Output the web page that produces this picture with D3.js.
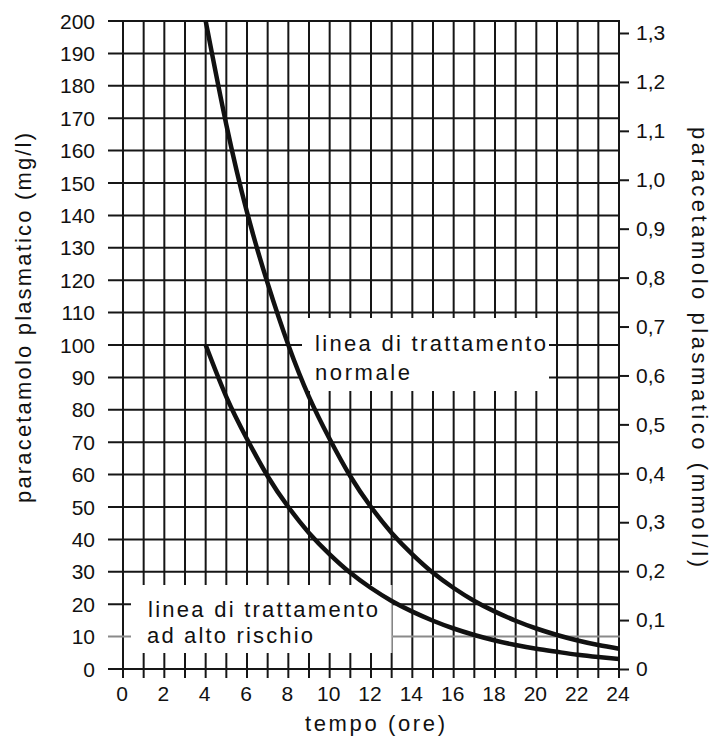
<!DOCTYPE html>
<html><head><meta charset="utf-8">
<script src="https://cdn.jsdelivr.net/npm/d3@7"></script>
<style>
body{margin:0;background:#fff}
svg{display:block}
text{font-family:"Liberation Sans",Arial,Helvetica,sans-serif;fill:#111}
</style>
</head><body>
<svg id="c" width="717" height="740"></svg>
<script>
// ---- data ----
const hours        = [4,5,6,7,8,9,10,11,12,13,14,15,16,17,18,19,20,21,22,23,24];
const normalLine   = [200,168,141,119,100,84,71,59.5,50,42,35.4,29.7,25,21,17.7,14.9,12.5,10.5,8.8,7.4,6.25];
const highRiskLine = [100,84,71,59.5,50,42,35.4,29.7,25,21,17.7,14.9,12.5,10.5,8.8,7.4,6.25,5.3,4.4,3.7,3.1];
const xTicks    = [0,2,4,6,8,10,12,14,16,18,20,22,24];
const xGrid     = [0,1,2,3,4,5,6,7,8,9,10,11,12,13,14,15,16,17,18,19,20,21,22,23,24];
const yTicks    = [0,10,20,30,40,50,60,70,80,90,100,110,120,130,140,150,160,170,180,190,200];
const mmolTicks = [0,0.1,0.2,0.3,0.4,0.5,0.6,0.7,0.8,0.9,1.0,1.1,1.2,1.3];
const mmolLabels= ["0","0,1","0,2","0,3","0,4","0,5","0,6","0,7","0,8","0,9","1,0","1,1","1,2","1,3"];
const mgPerMmol = 151;
const xTitle = "tempo (ore)";
const yTitleLeft = "paracetamolo plasmatico (mg/l)";
const yTitleRight = "paracetamolo plasmatico (mmol/l)";
const labelNormal = ["linea di trattamento","normale"];
const labelHigh = ["linea di trattamento","ad alto rischio"];

// ---- chart ----
const svg = d3.select("#c");
const x = d3.scaleLinear().domain([0,24]).range([123,619]);
const y = d3.scaleLinear().domain([0,200]).range([669,21]);
const yR = d3.scaleLinear().domain([0,200/mgPerMmol]).range([669,21]);
const gridCol = "#161616";

const grid = svg.append("g");
grid.selectAll("line.v").data(xGrid).join("line")
  .attr("x1",d=>x(d)).attr("x2",d=>x(d))
  .attr("y1",y(200)).attr("y2",y(0)+9)
  .attr("stroke",gridCol).attr("stroke-width",2);
grid.selectAll("line.h").data(yTicks).join("line")
  .attr("x1",x(0)-15).attr("x2",x(24)+1)
  .attr("y1",d=>y(d)).attr("y2",d=>y(d))
  .attr("stroke",d=>d===10?"#8a8a8a":gridCol).attr("stroke-width",2);

// white label boxes
svg.append("rect").attr("x",302).attr("y",318).attr("width",247).attr("height",73).attr("fill","#fff");
svg.append("rect").attr("x",131).attr("y",585).attr("width",260).attr("height",68).attr("fill","#fff");
svg.append("line").attr("x1",x(13)).attr("x2",x(13)).attr("y1",585).attr("y2",653)
  .attr("stroke","#b5b5b5").attr("stroke-width",1.5);

// curves
const line = d3.line().x((d,i)=>x(hours[i])).y(d=>y(d)).curve(d3.curveNatural);
svg.append("path").datum(normalLine).attr("d",line)
  .attr("fill","none").attr("stroke","#111").attr("stroke-width",4.5);
svg.append("path").datum(highRiskLine).attr("d",line)
  .attr("fill","none").attr("stroke","#111").attr("stroke-width",4.5);

// left tick labels
svg.append("g").selectAll("text").data(yTicks).join("text")
  .attr("x",95).attr("y",d=>y(d)).attr("dy","0.36em")
  .attr("text-anchor","end").attr("font-size",21).text(d=>d);

// x tick labels
svg.append("g").selectAll("text").data(xTicks).join("text")
  .attr("x",d=>x(d)-1).attr("y",701)
  .attr("text-anchor","middle").attr("font-size",21).text(d=>d);

// right axis
const rAxis = svg.append("g").attr("transform",`translate(${x(24)},0)`)
  .call(d3.axisRight(yR).tickValues(mmolTicks).tickSize(10).tickPadding(7)
    .tickFormat((d,i)=>mmolLabels[i]));
rAxis.select(".domain").remove();
rAxis.selectAll(".tick line").attr("stroke",gridCol).attr("stroke-width",2);
rAxis.selectAll(".tick text").attr("font-size",21)
  .attr("font-family",'"Liberation Sans",Arial,sans-serif').attr("fill","#111");

// titles
svg.append("text").attr("x",375).attr("y",731).attr("text-anchor","middle")
  .attr("font-size",22).attr("textLength",140).attr("lengthAdjust","spacing").text(xTitle);
svg.append("text").attr("transform","translate(31,318) rotate(-90)").attr("text-anchor","middle")
  .attr("font-size",22).attr("textLength",370).attr("lengthAdjust","spacing").text(yTitleLeft);
svg.append("text").attr("transform","translate(692,347) rotate(90)").attr("text-anchor","middle")
  .attr("font-size",22).attr("textLength",440).attr("lengthAdjust","spacing").text(yTitleRight);

// in-chart labels
svg.append("text").attr("x",315).attr("y",351).attr("font-size",22)
  .attr("textLength",231).attr("lengthAdjust","spacing").text(labelNormal[0]);
svg.append("text").attr("x",315).attr("y",380).attr("font-size",22)
  .attr("textLength",95).attr("lengthAdjust","spacing").text(labelNormal[1]);
svg.append("text").attr("x",148).attr("y",617).attr("font-size",22)
  .attr("textLength",230).attr("lengthAdjust","spacing").text(labelHigh[0]);
svg.append("text").attr("x",147).attr("y",643).attr("font-size",22)
  .attr("textLength",166).attr("lengthAdjust","spacing").text(labelHigh[1]);
</script>
</body></html>
